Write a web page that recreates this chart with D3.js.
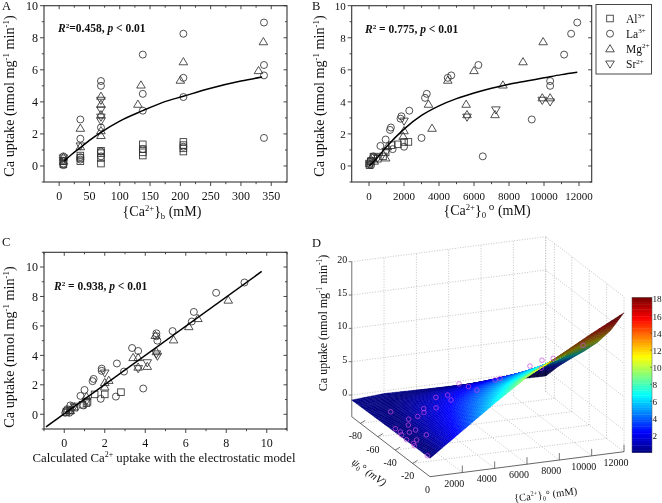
<!DOCTYPE html>
<html><head><meta charset="utf-8">
<script src="https://cdnjs.cloudflare.com/ajax/libs/d3/7.8.5/d3.min.js"></script>
<style>html,body{margin:0;padding:0;background:#fff}svg{display:block;font-family:"Liberation Serif",serif;fill:#111;filter:blur(.3px)}</style>
</head><body><svg id="c" width="662" height="503"></svg>
<script>
// ---------- Panel A: {Ca2+}b vs uptake
const aAl=[[7,.1],[7,.3],[35,.3],[35,.5],[35,.65],[69,.15],[69,.5],[69,.8],[69,.95],[138,.65],[138,.85],[138,1.05],[138,1.35],[205,.9],[205,1.1],[205,1.3],[205,1.5]];
const aLa=[[7,.05],[7,.3],[7,.6],[7,.15],[35,2.9],[35,1.7],[35,.55],[35,.4],[69,5.3],[69,5],[69,2.4],[69,.9],[69,.6],[138,6.95],[138,4.5],[138,3.45],[138,1.05],[205,8.25],[205,5.5],[205,4.3],[205,1.2],[338,8.95],[338,6.3],[338,5.65],[338,1.75]];
const aMg=[[7,.3],[7,.55],[35,2.35],[35,1.2],[69,4.35],[69,3.85],[69,3.2],[69,2.2],[69,1.9],[135,5.05],[130,3.85],[205,6.5],[200,5.35],[337,7.75],[329,5.95]];
const aSr=[[7,.5],[7,.35],[35,1.25],[69,4.1],[69,3.5],[69,3.05],[69,2.8]];
const aFitX=[8,20,35,50,69,100,138,170,205,250,300,335];
const aFitY=[.3,.7,1.15,1.6,2.1,2.8,3.45,3.95,4.35,4.85,5.3,5.55];
// ---------- Panel B: {Ca2+}0o vs uptake
const bAl=[[2250,1.5],[2000,1.5],[1650,1.35],[1300,1.3],[950,.85],[800,.6],[250,.5],[0,.15],[100,.3],[30,.05],[500,.45]];
const bLa=[[11900,8.95],[11550,8.25],[11150,6.95],[10350,5.3],[10350,5],[9300,2.9],[6500,.6],[6250,6.3],[4700,5.65],[4500,5.5],[3300,4.5],[3200,4.25],[2300,3.45],[3000,1.75],[2000,1.2],[1850,3.1],[1800,2.95],[1250,2.4],[1200,2.25],[1350,1.05],[950,1.65],[650,1.25],[250,.6],[100,.35],[50,.1],[120,.05],[60,.25]];
const bMg=[[9950,7.75],[8800,6.5],[6000,5.95],[4500,5.35],[7650,5.05],[5550,3.85],[3400,3.85],[5600,3.2],[7200,3.2],[9900,4.25],[10350,4.25],[3600,2.35],[2000,2.2],[1950,1.85],[1050,1.2],[950,.5],[300,.3]];
const bSr=[[10350,4],[9900,4.1],[7250,3.5],[5600,3.05],[2000,2.8],[1000,.9],[300,.6],[500,.5],[200,.3]];
const bFitX=[0,500,1000,2000,3000,4000,5000,6000,7000,8000,9000,10000,11000,11900];
const bFitY=[0,.55,1.2,2.3,3.15,3.75,4.2,4.55,4.85,5.1,5.3,5.5,5.7,5.85];
// ---------- Panel C: model vs uptake
const cAl=[[2.8,1.5],[2,1.35],[1.5,1.35],[1.15,.85],[1.1,.75],[.9,.65],[.5,.45],[.3,.25],[.1,.15]];
const cLa=[[8.9,8.95],[7.5,8.25],[6.4,6.95],[6.3,6.3],[5.35,5.65],[4.55,5.5],[4.55,5.3],[4.6,5],[3.65,4.3],[3.35,4.5],[2.6,3.45],[2.95,2.9],[3.9,1.75],[2.55,1.2],[1.85,3.1],[1.85,2.95],[1.45,2.4],[1.4,2.25],[1,1.65],[.8,1.25],[1.8,1.05],[.95,.6],[.3,.6],[.15,.35],[.05,.1],[.25,.1],[.1,.25]];
const cMg=[[8.1,7.75],[6.6,6.5],[6.15,5.95],[4.5,5.35],[5.4,5.05],[4.55,4.25],[3.4,3.85],[3.65,3.85],[4.1,3.25],[3.65,3.2],[2.2,2.3],[2,2.15],[2,1.85],[1.1,1.2],[.5,.5],[.3,.25]];
const cSr=[[4.6,3.95],[4.55,4.1],[4.1,3.5],[3.65,3.1],[2,2.8],[1.1,.9],[.5,.55],[.3,.3]];
const cFitX=[-.9,9.75];
const cFitY=[-.85,9.7];
// ---------- Panel D: surface
const dCa=[0,2000,4000,6000,8000,10000,12000];
const dPsi=[0,-15,-30,-45,-60,-75,-90];
const dZ=[ // one row per dPsi, one value per dCa
 [-.5,3,6.5,9.8,12.4,15.1,17.6],
 [-.5,2.2,4.9,7.5,9.5,11.6,13.5],
 [-.55,1.6,3.7,5.6,7.2,8.8,10.2],
 [-.6,1.1,2.6,4,5.2,6.4,7.4],
 [-.65,.6,1.6,2.5,3.3,4,4.8],
 [-.7,.1,.6,1,1.4,1.8,2.1],
 [-.75,-.4,-.5,-.6,-.7,-.8,-.9]];
const dPts=[[1090,-65.5,-.4],[170,-43,-.4],[210,-38,-.4],[70,-34,-.4],[0,-27,-.4],[1530,-53,-.4],[1110,-45.5,-.4],[660,-36,-.4],[100,-21,-.4],[1150,-38,-.4],[520,-25,-.4],[2200,-55,-.4],[0,-18,-.4],[1390,-30,-.4],[0,-3,-.4],[3050,-64,-.4],[2800,-59,-.4],[4480,-76.5,-.4],[3770,-63,-.4],[5260,-77.5,-.4],[5100,-70.6,-.4],[6640,-90,-.4],[6950,-85,-.4],[7150,-79,-.4],[8170,-77,1],[8530,-78,1],[10060,-72,3],[10640,-69,4],[10970,-76,2],[11360,-69.5,4],[12000,-47,8]];
const dZTicks=[0,5,10,15,20];
const dCaTicks=[2000,4000,6000,8000,10000,12000];
const dPsiTicks=[-80,-60,-40,-20];
const barTicks=[2,4,6,8,10,12,14,16,18];
const legendNames=["Al","La","Mg","Sr"];
const legendCharges=["3+","3+","2+","2+"];

const svg=d3.select("#c");
const AXC="#333";

function rich(g,x,y,size,parts,o={}){
  const t=g.append("text").attr("x",x).attr("y",y).attr("font-size",size);
  if(o.anchor)t.attr("text-anchor",o.anchor);
  if(o.weight)t.attr("font-weight",o.weight);
  if(o.transform)t.attr("transform",o.transform);
  let cur=0;
  parts.forEach(p=>{
    const shift=p.sup?-size*.38:p.sub?size*.22:0;
    const s=t.append("tspan").text(p.t).attr("dy",shift-cur);
    cur=shift;
    if(p.sup||p.sub)s.attr("font-size",size*(p.scale||.62));
    if(p.i)s.attr("font-style","italic");
  });
  return t;
}
function marker(g,type,x,y){
  const st=e=>e.attr("fill","none").attr("stroke","#333").attr("stroke-width",.85);
  if(type==="s")st(g.append("rect").attr("x",x-3.3).attr("y",y-3.3).attr("width",6.6).attr("height",6.6));
  if(type==="c")st(g.append("circle").attr("cx",x).attr("cy",y).attr("r",3.5));
  if(type==="t")st(g.append("path").attr("d",`M${x-4.3},${y+3}L${x+4.3},${y+3}L${x},${y-4.2}Z`));
  if(type==="v")st(g.append("path").attr("d",`M${x-4.3},${y-3}L${x+4.3},${y-3}L${x},${y+4.2}Z`));
}
function panel(o){
  const g=svg.append("g");
  const x=d3.scaleLinear().domain(o.xd).range(o.xr), y=d3.scaleLinear().domain(o.yd).range(o.yr);
  const line=(a,b,c,d,w)=>g.append("line").attr("x1",a).attr("y1",b).attr("x2",c).attr("y2",d).attr("stroke",AXC).attr("stroke-width",w||.9);
  g.append("rect").attr("x",o.xr[0]).attr("y",o.yr[1]).attr("width",o.xr[1]-o.xr[0]).attr("height",o.yr[0]-o.yr[1]).attr("fill","none").attr("stroke",AXC).attr("stroke-width",1.1);
  o.xMinor.forEach(v=>{const p=x(v),maj=o.xMajor.includes(v);
    line(p,o.yr[0],p,o.yr[0]+(maj?4:2.2));line(p,o.yr[1],p,o.yr[1]+(maj?3.5:2));
    if(maj)g.append("text").attr("x",p).attr("y",o.yr[0]+18).attr("text-anchor","middle").attr("font-size",o.tick).text(v);});
  o.yMinor.forEach(v=>{const p=y(v),maj=o.yMajor.includes(v);
    line(o.xr[0],p,o.xr[0]-(maj?4:2.2),p);line(o.xr[1],p,o.xr[1]-(maj?3.5:2),p);
    if(maj)g.append("text").attr("x",o.xr[0]-6).attr("y",p+4.3).attr("text-anchor","end").attr("font-size",o.tick).text(v);});
  [["s",o.al],["c",o.la],["t",o.mg],["v",o.sr]].forEach(([t,d])=>d.forEach(p=>marker(g,t,x(p[0]),y(p[1]))));
  const pts=o.fitX.map((v,i)=>[v,o.fitY[i]]);
  g.append("path").attr("d",d3.line().x(p=>x(p[0])).y(p=>y(p[1])).curve(d3.curveMonotoneX)(pts)).attr("fill","none").attr("stroke","#000").attr("stroke-width",1.5);
  return g;
}
const ylabelParts=[{t:"Ca uptake (nmol mg"},{t:"-1",sup:1},{t:" min"},{t:"-1",sup:1},{t:")"}];
const seq=(a,b,s)=>d3.range(a,b+s/2,s);

// A
const gA=panel({xd:[-25,376],xr:[44,287],yd:[-1,10],yr:[182,5.7],xMinor:seq(0,350,25),xMajor:seq(0,350,50),yMinor:seq(-1,10,1),yMajor:seq(0,10,2),tick:12,al:aAl,la:aLa,mg:aMg,sr:aSr,fitX:aFitX,fitY:aFitY});
rich(gA,14,96,14.2,ylabelParts,{anchor:"middle",transform:"rotate(-90 14 96)"});
rich(gA,162,216,14,[{t:"{Ca"},{t:"2+",sup:1},{t:"}"},{t:"b",sub:1},{t:" (mM)"}],{anchor:"middle"});
rich(gA,58,32,11.5,[{t:"R",i:1},{t:"2",sup:1},{t:"=0.458, "},{t:"p",i:1},{t:" < 0.01"}],{weight:"bold"});
rich(gA,2,10,12.5,[{t:"A"}]);
// B
const gB=panel({xd:[-990,12725],xr:[351.7,591.7],yd:[-1,10],yr:[182,5.7],xMinor:seq(0,12000,1000),xMajor:seq(0,12000,2000),yMinor:seq(-1,10,1),yMajor:seq(0,10,2),tick:11,al:bAl,la:bLa,mg:bMg,sr:bSr,fitX:bFitX,fitY:bFitY});
rich(gB,324,96,14.2,ylabelParts,{anchor:"middle",transform:"rotate(-90 324 96)"});
rich(gB,487,215,14,[{t:"{Ca"},{t:"2+",sup:1},{t:"}"},{t:"0",sub:1},{t:" o",sup:1,scale:.8},{t:" (mM)"}],{anchor:"middle"});
rich(gB,365,33,11.5,[{t:"R",i:1},{t:"2",sup:1},{t:" = 0.775, "},{t:"p",i:1},{t:" < 0.01"}],{weight:"bold"});
rich(gB,312,10,12.5,[{t:"B"}]);
// C
const gC=panel({xd:[-1,11],xr:[44,287],yd:[-1,11],yr:[429,252.3],xMinor:seq(-1,11,1),xMajor:seq(0,10,2),yMinor:seq(-1,11,1),yMajor:seq(0,10,2),tick:12,al:cAl,la:cLa,mg:cMg,sr:cSr,fitX:cFitX,fitY:cFitY});
rich(gC,14,347,14.2,ylabelParts,{anchor:"middle",transform:"rotate(-90 14 347)"});
rich(gC,164,462,12.8,[{t:"Calculated Ca"},{t:"2+",sup:1},{t:" uptake with the electrostatic model"}],{anchor:"middle"});
rich(gC,54,290,11.5,[{t:"R",i:1},{t:"2",sup:1},{t:" = 0.938, "},{t:"p",i:1},{t:" < 0.01"}],{weight:"bold"});
rich(gC,2,246,12.5,[{t:"C"}]);

// Legend
const gL=svg.append("g");
gL.append("rect").attr("x",596).attr("y",4.5).attr("width",55.5).attr("height",69.5).attr("fill","#fff").attr("stroke",AXC).attr("stroke-width",.9);
const legY=d3.scalePoint().domain(legendNames).range([18.5,64]);
["s","c","t","v"].forEach((t,i)=>{const n=legendNames[i];
  marker(gL,t,610,legY(n));
  rich(gL,626,legY(n)+4,11.5,[{t:n},{t:legendCharges[i],sup:1}]);
});

// D: orthographic projection built from three scales
const gD=svg.append("g");
const cS=d3.scaleLinear().domain([0,12000]).range([0,1]);
const pS=d3.scaleLinear().domain([0,-90]).range([0,1]);
const zS=d3.scaleLinear().domain([-3.25,20]).range([0,155]);
const O=[430,476.7],CV=[194,-25],PV=[-78.3,-60];
const proj=(ca,psi,z)=>{const c=cS(ca),p=pS(psi);return [O[0]+CV[0]*c+PV[0]*p,O[1]+CV[1]*c+PV[1]*p-zS(z)];};
const jetStops=[[0,"#000080"],[2.4,"#0000ff"],[6.75,"#00ffff"],[11.25,"#ffff00"],[15.75,"#ff0000"],[18,"#800000"]];
const jet=d3.scaleLinear().domain(jetStops.map(d=>d[0])).range(jetStops.map(d=>d[1])).clamp(true);
const ZF=-3.25,ZT=20,CAM=12000,PM=-90;
const seg=(a,b,col,w,dash)=>{const l=gD.append("line").attr("x1",a[0]).attr("y1",a[1]).attr("x2",b[0]).attr("y2",b[1]).attr("stroke",col).attr("stroke-width",w);if(dash)l.attr("stroke-dasharray",dash);return l;};
const GC="#b5b5b5",GD="1,1.6";
dCaTicks.forEach(v=>{seg(proj(v,0,ZF),proj(v,PM,ZF),GC,.8,GD);seg(proj(v,PM,ZF),proj(v,PM,ZT),GC,.8,GD);});
[0].concat(dPsiTicks).forEach(v=>{if(v!==0)seg(proj(0,v,ZF),proj(CAM,v,ZF),GC,.8,GD);seg(proj(CAM,v,ZF),proj(CAM,v,ZT),GC,.8,GD);});
dZTicks.forEach(v=>{seg(proj(0,PM,v),proj(CAM,PM,v),GC,.8,GD);seg(proj(CAM,PM,v),proj(CAM,0,v),GC,.8,GD);});
seg(proj(CAM,PM,ZF),proj(CAM,PM,ZT),GC,.8,GD);
// axes
seg(proj(0,PM,ZF),proj(0,PM,ZT),"#999",1.4);
seg(proj(0,PM,ZF),proj(0,0,ZF),"#555",.9);
seg(proj(0,0,ZF),proj(CAM,0,ZF),"#555",.9);
dZTicks.forEach(v=>{const p=proj(0,PM,v);seg(p,[p[0]-3,p[1]],"#555",.8);
  gD.append("text").attr("x",p[0]-4.5).attr("y",p[1]+1).attr("text-anchor","end").attr("font-size",10).text(v);});
dCaTicks.forEach(v=>{const p=proj(v,0,ZF);seg(p,[p[0],p[1]-7],"#555",.8);
  gD.append("text").attr("x",p[0]-8).attr("y",p[1]+14).attr("text-anchor","middle").attr("font-size",10).text(v);});
dPsiTicks.forEach(v=>{const p=proj(0,v,ZF);seg(p,[p[0]+5,p[1]-3],"#555",.8);
  gD.append("text").attr("x",p[0]-5).attr("y",p[1]+16).attr("text-anchor","middle").attr("font-size",10).text(v);});
gD.append("text").attr("x",427.5).attr("y",493).attr("text-anchor","middle").attr("font-size",10).text(0);

// surface quads, far to near, shaded from the table
const N=8,quads=[];
const bil=(i,j,u,v)=>{ // j: psi row, i: ca column
  const a=dZ[j][i],b=dZ[j][i+1],c=dZ[j+1][i],d=dZ[j+1][i+1];
  return a*(1-u)*(1-v)+b*u*(1-v)+c*(1-u)*v+d*u*v;};
for(let j=0;j<dPsi.length-1;j++)for(let i=0;i<dCa.length-1;i++)for(let a=0;a<N;a++)for(let b=0;b<N;b++){
  const caAt=u=>dCa[i]+(dCa[i+1]-dCa[i])*u, psiAt=v=>dPsi[j]+(dPsi[j+1]-dPsi[j])*v;
  const cn=[[a/N,b/N],[(a+1)/N,b/N],[(a+1)/N,(b+1)/N],[a/N,(b+1)/N]];
  const w=cn.map(([u,v])=>[caAt(u),psiAt(v),bil(i,j,u,v)]);
  const s=w.map(q=>proj(q[0],q[1],q[2]));
  const area=d3.polygonArea(s);
  const m=d3.mean(w,q=>q[2]);
  const far=242*cS(d3.mean(w,q=>q[0]))+580*pS(d3.mean(w,q=>q[1]))-6.5*m;
  quads.push({s,m,area,far});
}
quads.sort((a,b)=>b.far-a.far);
const first=Math.sign(d3.sum(quads,q=>q.area));
const shade=q=>q.area*first<0?d3.interpolateRgb(jet(q.m),"#000")(.55):jet(q.m);
gD.append("g").selectAll("path").data(quads).join("path")
  .attr("d",q=>"M"+q.s.join("L")+"Z")
  .attr("fill",shade).attr("stroke",shade).attr("stroke-width",.4);
gD.append("g").selectAll("circle").data(dPts).join("circle")
  .attr("cx",d=>proj(d[0],d[1],d[2])[0]).attr("cy",d=>proj(d[0],d[1],d[2])[1])
  .attr("r",2.3).attr("fill","none").attr("stroke","#c848e0").attr("stroke-width",.7);

// colour bar
const barY=d3.scaleLinear().domain([0,18]).range([452.5,299]);
const barVals=d3.range(0,18,.28);
gD.append("g").selectAll("rect").data(barVals).join("rect")
  .attr("x",632).attr("width",20).attr("y",d=>barY(d+.28)).attr("height",d=>barY(d)-barY(d+.28)+.4)
  .attr("fill",d=>jet(d+.14));
gD.append("rect").attr("x",632).attr("y",297.5).attr("width",20).attr("height",155).attr("fill","none").attr("stroke","#555").attr("stroke-width",.5);
barTicks.forEach(v=>{gD.append("text").attr("x",652.5).attr("y",barY(v)+(v===18?3:3.5)).attr("font-size",9.2).text(v);
  seg([650,barY(v)],[652,barY(v)],"#333",.5);});

rich(gD,327,323,12,ylabelParts,{anchor:"middle",transform:"rotate(-90 327 323)"});
rich(gD,546,498,10.5,[{t:"{Ca"},{t:"2+",sup:1},{t:"}"},{t:"0",sub:1},{t:"° (mM)"}],{anchor:"middle",transform:"rotate(-7 546 498)"});
rich(gD,367,475,11,[{t:"ψ",i:1},{t:"0",sub:1},{t:"° (mV)",i:1}],{anchor:"middle",transform:"rotate(36 367 475)"});
rich(gD,312,247,12.5,[{t:"D"}]);
</script></body></html>
